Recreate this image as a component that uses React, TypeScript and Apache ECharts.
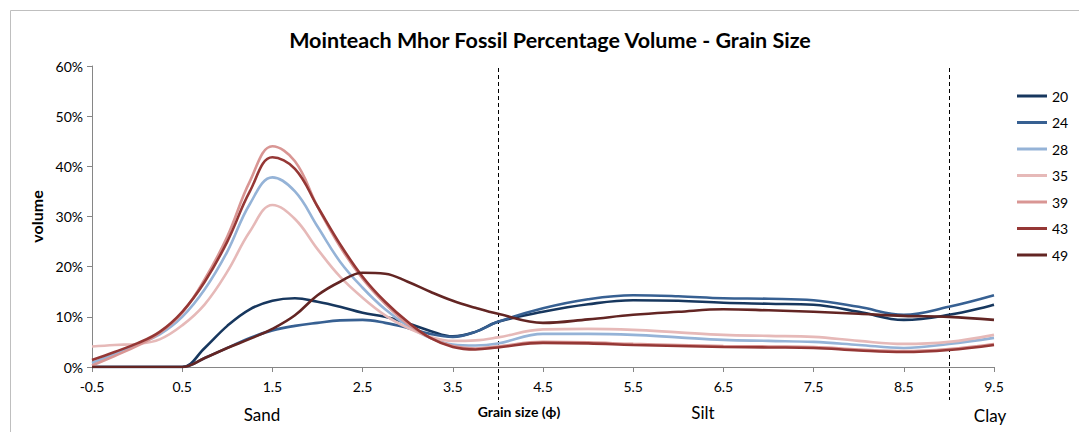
import React, { useEffect, useRef } from "react";
import * as echarts from "echarts";

const xValues = [-0.5, -0.25, 0, 0.25, 0.5, 0.75, 1, 1.25, 1.5, 1.75, 2, 2.25, 2.5, 2.75, 3, 3.25, 3.5, 3.75, 4, 4.5, 5, 5.5, 6, 6.5, 7, 7.5, 8, 8.5, 9, 9.5];
const seriesNames = ["20", "24", "28", "35", "39", "43", "49"];
const s20 = [0, 0, 0, 0, 0, 3.8, 8.2, 11.5, 13.2, 13.7, 13, 12, 10.8, 10, 8.7, 7.2, 6.1, 7, 9, 11, 12.5, 13.3, 13.2, 12.8, 12.6, 12.4, 11, 9.4, 10.4, 12.4];
const s24 = [0, 0, 0, 0, 0, 1.8, 3.8, 5.8, 7.3, 8.2, 8.8, 9.3, 9.4, 8.8, 7.8, 6.6, 6, 7, 9, 11.7, 13.5, 14.3, 14.1, 13.7, 13.6, 13.3, 12, 10.4, 12, 14.3];
const s28 = [0.8, 2.6, 4.5, 6.5, 10, 15.5, 23, 32.5, 37.8, 35, 28, 21, 15.8, 11.5, 8.2, 5.8, 4.5, 4.3, 4.7, 6.6, 6.6, 6.4, 5.9, 5.4, 5.2, 5, 4.4, 3.8, 4.6, 5.8];
const s35 = [4.1, 4.4, 4.6, 5.5, 8.3, 12.5, 19, 27, 32.3, 29.5, 23.5, 18, 13.8, 10.3, 7.8, 6, 5.2, 5.3, 5.9, 7.5, 7.6, 7.4, 6.9, 6.4, 6.2, 6, 5.2, 4.6, 5, 6.4];
const s39 = [0.3, 2.2, 4.2, 6.8, 10.8, 17.5, 26, 37, 44, 41, 32, 24, 17.6, 12.6, 8.6, 5.8, 4.2, 3.7, 4.1, 5, 4.9, 4.6, 4.4, 4.2, 4.1, 4, 3.5, 3.2, 3.6, 4.6];
const s43 = [1.4, 3, 4.7, 7, 11, 17, 25, 35, 41.8, 39.5, 32, 24.5, 18, 13, 9, 5.8, 4, 3.5, 3.9, 4.8, 4.7, 4.4, 4.2, 4, 3.9, 3.8, 3.3, 3, 3.4, 4.4];
const s49 = [0, 0, 0, 0, 0, 1.8, 3.8, 5.6, 7.6, 10.3, 14.3, 17, 18.8, 18.6, 17, 15, 13.2, 11.8, 10.6, 8.8, 9.5, 10.4, 11, 11.5, 11.3, 11, 10.6, 10.2, 10, 9.4];
const seriesValues = [s20, s24, s28, s35, s39, s43, s49];
const seriesColors = ["#17375E", "#376092", "#95B3D7", "#E6B9B8", "#D99694", "#953735", "#632523"];
const dividerX = [4, 9];
const regionLabels = [
  { text: "Sand", px: 262, py: 414, size: 17, bold: false },
  { text: "Grain size (ϕ)", px: 519, py: 411, size: 14, bold: true },
  { text: "Silt", px: 703, py: 412, size: 17, bold: false },
  { text: "Clay", px: 990, py: 415, size: 17, bold: false },
];

const FONT = "Lato, 'Open Sans', sans-serif";

export default function App() {
  const ref = useRef<HTMLDivElement>(null);
  useEffect(() => {
    document.body.style.margin = "0";
    if (!ref.current) return;
    const chart = echarts.init(ref.current, undefined, { renderer: "svg" });
    const option: any = {
      animation: false,
      backgroundColor: "#ffffff",
      textStyle: { fontFamily: FONT },
      title: {
        text: "Mointeach Mhor Fossil Percentage Volume - Grain Size",
        left: 545,
        textAlign: "center",
        top: 24,
        textStyle: { fontFamily: FONT, fontSize: 21.5, fontWeight: "bold", color: "#000" },
      },
      legend: {
        orient: "vertical",
        left: 1012,
        top: 84,
        itemWidth: 30,
        itemHeight: 3,
        itemGap: 12.5,
        icon: "path://M0,0L30,0L30,3L0,3Z",
        textStyle: { fontFamily: FONT, fontSize: 14, color: "#000" },
        data: seriesNames,
      },
      grid: { left: 92, right: 85, top: 66, bottom: 65, containLabel: false },
      xAxis: {
        type: "value",
        min: -0.5,
        max: 9.5,
        interval: 1,
        axisLine: { show: true, onZero: false, lineStyle: { color: "#868686", width: 1 } },
        axisTick: { show: true, length: 5, lineStyle: { color: "#868686" } },
        splitLine: { show: false },
        axisLabel: {
          margin: 12,
          fontFamily: FONT,
          fontSize: 14,
          color: "#000",
          formatter: (v: number) => v.toFixed(1),
        },
      },
      yAxis: {
        type: "value",
        min: 0,
        max: 60,
        interval: 10,
        name: "volume",
        nameLocation: "middle",
        nameRotate: 90,
        nameGap: 47,
        nameTextStyle: { fontFamily: FONT, fontSize: 16, fontWeight: "bold", color: "#000" },
        axisLine: { show: true, onZero: false, lineStyle: { color: "#868686", width: 1 } },
        axisTick: { show: true, length: 5, lineStyle: { color: "#868686" } },
        splitLine: { show: false },
        axisLabel: { margin: 9, fontFamily: FONT, fontSize: 14, color: "#000", formatter: "{value}%" },
      },
      series: seriesNames.map((name, i) => ({
        name,
        type: "line",
        smooth: 0.4,
        symbol: "none",
        showSymbol: false,
        color: seriesColors[i],
        lineStyle: { width: 2.6, color: seriesColors[i] },
        data: xValues.map((x, j) => [x, seriesValues[i][j]]),
      })),
    };
    chart.setOption(option);

    const graphics: any[] = [
      {
        type: "rect",
        shape: { x: 10.5, y: 10.5, width: 1100, height: 500 },
        style: { fill: "none", stroke: "#bfbfbf", lineWidth: 1 },
        silent: true,
        z: -10,
      },
    ];
    dividerX.forEach((dx) => {
      const top = chart.convertToPixel({ gridIndex: 0 }, [dx, 60]) as number[];
      const px = Math.round(top[0]) + 0.5;
      graphics.push({
        type: "line",
        shape: { x1: px, y1: top[1] + 2, x2: px, y2: 400 },
        style: { stroke: "#000", lineWidth: 1, lineDash: [4, 3] },
        silent: true,
      });
    });
    regionLabels.forEach((l) => {
      graphics.push({
        type: "text",
        x: l.px,
        y: l.py,
        style: {
          text: l.text,
          fontFamily: FONT,
          fontSize: l.size,
          fontWeight: l.bold ? "bold" : "normal",
          fill: "#000",
          textAlign: "center",
          textVerticalAlign: "middle",
        },
        silent: true,
      });
    });
    chart.setOption({ graphic: graphics });

    return () => chart.dispose();
  }, []);
  return <div ref={ref} style={{ width: 1079, height: 432 }} />;
}
